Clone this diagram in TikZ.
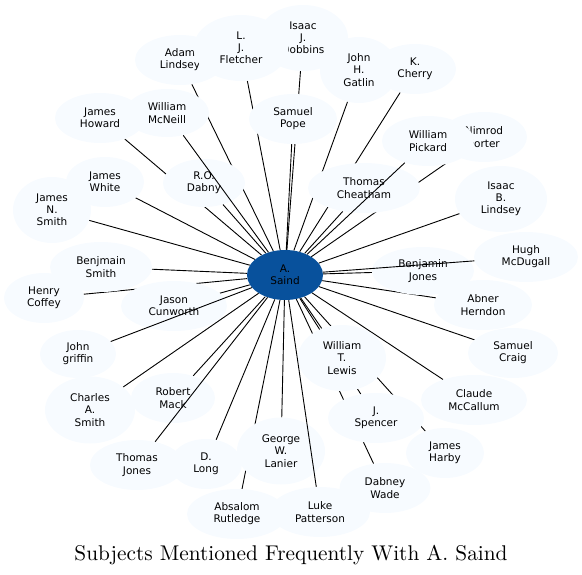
\documentclass[tikz,border=0pt]{standalone}
\usepackage{fontspec}
\newfontfamily\nodefont{DejaVu Sans}
\newfontfamily\titlefont{lmroman10-regular.otf}
\usetikzlibrary{shapes.geometric}
\pgfdeclarelayer{bg}
\pgfdeclarelayer{fg}
\pgfsetlayers{bg,main,fg}
\definecolor{nodefill}{HTML}{F7FBFF}
\definecolor{hubfill}{HTML}{08519C}
\tikzset{
  person/.style={ellipse, fill=nodefill, inner sep=0pt, align=center,
    font=\nodefont\fontsize{10.5}{12.2}\selectfont},
  hub/.style={person, fill=hubfill},
  link/.style={draw=black, line width=0.9pt},
}
\begin{document}
\begin{tikzpicture}[x=1pt,y=-1pt]
\useasboundingbox (0,0) rectangle (582,575);
% hub
\node[hub, minimum width=76pt, minimum height=50pt] (c) at (285,275) {A.\\Saind};
% persons (order matters for overlaps)
\node[person, minimum width=90pt, minimum height=66pt] (dobbins) at (303,38) {Isaac\\J.\\Dobbins};
\node[person, minimum width=90pt, minimum height=50pt] (alindsey) at (180,60) {Adam\\Lindsey};
\node[person, minimum width=95pt, minimum height=66pt] (fletcher) at (241,48) {L.\\J.\\Fletcher};
\node[person, minimum width=78pt, minimum height=66pt] (gatlin) at (359,70) {John\\H.\\Gatlin};
\node[person, minimum width=82pt, minimum height=50pt] (cherry) at (415,69) {K.\\Cherry};
\node[person, minimum width=90pt, minimum height=50pt] (howard) at (100,118) {James\\Howard};
\node[person, minimum width=84pt, minimum height=48pt] (mcneill) at (167,113) {William\\McNeill};
\node[person, minimum width=88pt, minimum height=50pt] (pope) at (293,119) {Samuel\\Pope};
\node[person, minimum width=86pt, minimum height=50pt] (porter) at (484,137) {Nimrod\\Porter};
\node[person, minimum width=92pt, minimum height=50pt] (pickard) at (428,141) {William\\Pickard};
\node[person, minimum width=82pt, minimum height=48pt] (dabny) at (204,183) {R.O.\\Dabny};
\node[person, minimum width=78pt, minimum height=50pt] (white) at (105,182) {James\\White};
\node[person, minimum width=112pt, minimum height=50pt] (cheatham) at (364,188) {Thomas\\Cheatham};
\node[person, minimum width=92pt, minimum height=66pt] (iblindsey) at (501,199) {Isaac\\B.\\Lindsey};
\node[person, minimum width=78pt, minimum height=66pt] (nsmith) at (52,210) {James\\N.\\Smith};
\node[person, minimum width=80pt, minimum height=50pt] (coffey) at (44,298) {Henry\\Coffey};
\node[person, minimum width=102pt, minimum height=50pt] (bsmith) at (101,267) {Benjmain\\Smith};
\node[person, minimum width=104pt, minimum height=50pt] (mcdugall) at (526,257) {Hugh\\McDugall};
\node[person, minimum width=102pt, minimum height=48pt] (bjones) at (423,271) {Benjamin\\Jones};
\node[person, minimum width=106pt, minimum height=50pt] (cunworth) at (174,306) {Jason\\Cunworth};
\node[person, minimum width=98pt, minimum height=50pt] (herndon) at (483,305) {Abner\\Herndon};
\node[person, minimum width=76pt, minimum height=48pt] (griffin) at (78,354) {John\\griffin};
\node[person, minimum width=90pt, minimum height=50pt] (craig) at (513,353) {Samuel\\Craig};
\node[person, minimum width=88pt, minimum height=66pt] (lewis) at (342,358) {William\\T.\\Lewis};
\node[person, minimum width=84pt, minimum height=50pt] (mack) at (173,398) {Robert\\Mack};
\node[person, minimum width=106pt, minimum height=50pt] (mccallum) at (474,400) {Claude\\McCallum};
\node[person, minimum width=90pt, minimum height=67pt] (csmith) at (90,410) {Charles\\A.\\Smith};
\node[person, minimum width=96pt, minimum height=50pt] (spencer) at (376,418) {J.\\Spencer};
\node[person, minimum width=88pt, minimum height=67pt] (lanier) at (281,451) {George\\W.\\Lanier};
\node[person, minimum width=78pt, minimum height=50pt] (harby) at (445,453) {James\\Harby};
\node[person, minimum width=94pt, minimum height=50pt] (tjones) at (137,465) {Thomas\\Jones};
\node[person, minimum width=72pt, minimum height=50pt] (long) at (206,464) {D.\\Long};
\node[person, minimum width=91pt, minimum height=50pt] (wade) at (385,488) {Dabney\\Wade};
\node[person, minimum width=100pt, minimum height=50pt] (rutledge) at (237,514) {Absalom\\Rutledge};
\node[person, minimum width=100pt, minimum height=50pt] (patterson) at (320,512) {Luke\\Patterson};
% edges hidden by nodes
\begin{pgfonlayer}{bg}
\foreach \n in {dobbins,alindsey,fletcher,gatlin,cherry,howard,pope,porter,dabny,white,cheatham,iblindsey,nsmith,coffey,bsmith,bjones,cunworth,herndon,craig,lewis,mack,mccallum,csmith,spencer,lanier,harby,long,wade,rutledge}
  \draw[link] (c) -- (\n);
\end{pgfonlayer}
% edges drawn over other nodes
\begin{pgfonlayer}{fg}
\foreach \n in {mcneill,pickard,mcdugall,griffin,tjones,patterson}
  \draw[link] (c) -- (\n);
\end{pgfonlayer}
% title
\node[anchor=base, font=\titlefont\fontsize{21.3}{25}\selectfont, inner sep=0pt] (title) at (291,560) {Subjects Mentioned Frequently With A. Saind};
\end{tikzpicture}
\end{document}
